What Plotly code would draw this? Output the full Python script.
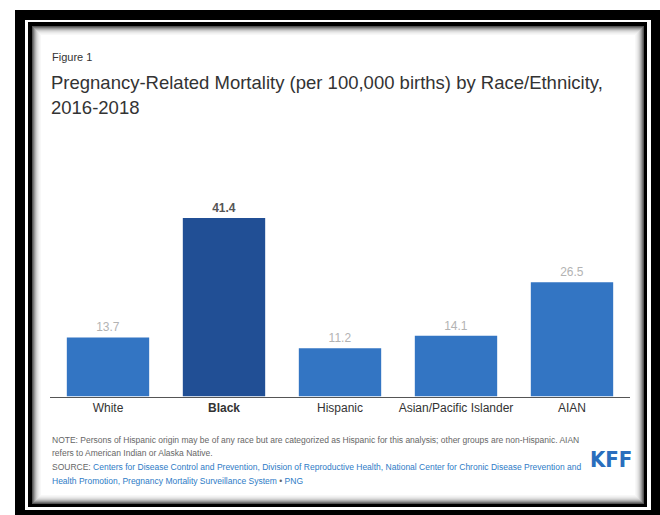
import plotly.graph_objects as go

categories = ["White", "Black", "Hispanic", "Asian/Pacific Islander", "AIAN"]
values = [13.7, 41.4, 11.2, 14.1, 26.5]
tick_labels = ["White", "<b>Black</b>", "Hispanic", "Asian/Pacific Islander", "AIAN"]
value_labels = ["13.7", "<b>41.4</b>", "11.2", "14.1", "26.5"]
bar_colors = ["#3375c3", "#214f95", "#3375c3", "#3375c3", "#3375c3"]
label_colors = ["#b3b3b3", "#555555", "#b3b3b3", "#b3b3b3", "#b3b3b3"]

W, H = 660, 515


def px(x):
    return x / W


def py(y):
    return 1 - y / H


fig = go.Figure()
fig.add_trace(go.Bar(
    x=categories, y=values, marker=dict(color=bar_colors, line=dict(width=0)),
    text=value_labels, textposition="outside", cliponaxis=False,
    textfont=dict(color=label_colors, size=12, family="Liberation Sans, Arial, sans-serif"),
    hoverinfo="skip", width=0.71,
))

shapes = []
# frame
shapes.append(dict(type="rect", xref="paper", yref="paper", x0=px(15), x1=px(660), y0=py(515), y1=py(10),
                   fillcolor="black", line=dict(width=0), layer="below"))
shapes.append(dict(type="rect", xref="paper", yref="paper", x0=px(25), x1=px(651), y0=py(510), y1=py(20),
                   fillcolor="white", line=dict(width=0), layer="below"))
shapes.append(dict(type="rect", xref="paper", yref="paper", x0=px(28), x1=px(647), y0=py(507), y1=py(22),
                   fillcolor="black", line=dict(width=0), layer="below"))
grays = ["#555555", "#777777", "#999999", "#b5b5b5", "#cccccc", "#dddddd", "#e9e9e9", "#f2f2f2", "#f8f8f8"]
for i, g in enumerate(grays):
    shapes.append(dict(type="rect", xref="paper", yref="paper",
                       x0=px(32 + i), x1=px(644 - i), y0=py(504 - i), y1=py(26 + i),
                       fillcolor=g, line=dict(width=0), layer="below"))
shapes.append(dict(type="rect", xref="paper", yref="paper",
                   x0=px(32 + len(grays)), x1=px(644 - len(grays)),
                   y0=py(504 - len(grays)), y1=py(26 + len(grays)),
                   fillcolor="white", line=dict(width=0), layer="below"))

font = "Liberation Sans, Arial, sans-serif"
ann = []
ann.append(dict(text="Figure 1", x=px(50), y=py(57), xref="paper", yref="paper", xanchor="left",
                yanchor="middle", showarrow=False, font=dict(size=11, color="#333333", family=font)))
ann.append(dict(text="Pregnancy-Related Mortality (per 100,000 births) by Race/Ethnicity,",
                x=px(49), y=py(82), xref="paper", yref="paper", xanchor="left", yanchor="middle",
                showarrow=False, font=dict(size=18.5, color="#333333", family=font)))
ann.append(dict(text="2016-2018", x=px(49), y=py(108), xref="paper", yref="paper", xanchor="left",
                yanchor="middle", showarrow=False, font=dict(size=18.5, color="#333333", family=font)))
note1 = "NOTE: Persons of Hispanic origin may be of any race but are categorized as Hispanic for this analysis; other groups are non-Hispanic. AIAN"
note2 = "refers to American Indian or Alaska Native."
src1 = "SOURCE: <span style='color:#2d7bc6'>Centers for Disease Control and Prevention, Division of Reproductive Health, National Center for Chronic Disease Prevention and</span>"
src2 = "<span style='color:#2d7bc6'>Health Promotion, Pregnancy Mortality Surveillance System</span> • <span style='color:#2d7bc6'>PNG</span>"
for t, yy in [(note1, 440), (note2, 453), (src1, 467), (src2, 481)]:
    ann.append(dict(text=t, x=px(50), y=py(yy), xref="paper", yref="paper", xanchor="left",
                    yanchor="middle", showarrow=False, font=dict(size=8.5, color="#666666", family=font)))
ann.append(dict(text="<b>KFF</b>", x=px(611), y=py(459), xref="paper", yref="paper", xanchor="center",
                yanchor="middle", showarrow=False,
                font=dict(size=22, color="#2a6ebd",
                          family="Liberation Sans Narrow, DejaVu Sans Condensed, Liberation Sans, sans-serif")))

fig.update_layout(
    width=W, height=H, margin=dict(l=0, r=0, t=0, b=0),
    paper_bgcolor="white", plot_bgcolor="rgba(0,0,0,0)",
    shapes=shapes, annotations=ann, showlegend=False,
    bargap=0.29,
    xaxis=dict(domain=[px(50), px(630)], showline=True, linecolor="#555555", linewidth=1,
               tickmode="array", tickvals=categories, ticktext=tick_labels, ticks="",
               tickfont=dict(size=12, color="#333333", family=font), showgrid=False, fixedrange=True),
    yaxis=dict(domain=[py(396.5), py(196)], range=[0, 200.5 / 4.31], visible=False,
               showgrid=False, zeroline=False, fixedrange=True),
)

fig.write_html("out.html")
